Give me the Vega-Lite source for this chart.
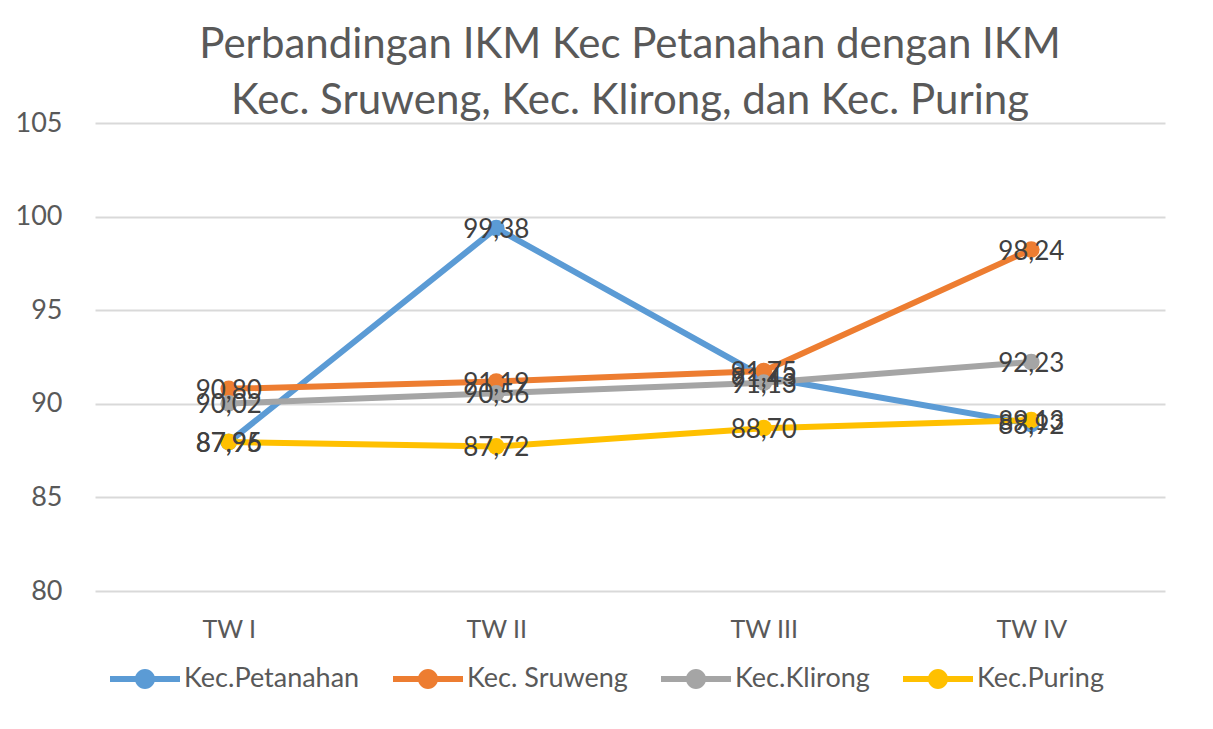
{
  "$schema": "https://vega.github.io/schema/vega-lite/v6.json",
  "width": 1070,
  "height": 468,
  "autosize": {"type": "none"},
  "padding": {"left": 95, "top": 123, "right": 48, "bottom": 138},
  "background": "white",
  "config": {
    "locale": {"number": {"decimal": ",", "thousands": ".", "grouping": [3], "currency": ["", ""]}},
    "font": "Lato",
    "view": {"stroke": null},
    "title": {"font": "Lato", "fontSize": 42, "fontWeight": "normal", "color": "#595959", "lineHeight": 56, "offset": -14, "anchor": "middle"}
  },
  "title": {"text": ["Perbandingan IKM Kec Petanahan dengan IKM", "Kec. Sruweng, Kec. Klirong, dan Kec. Puring"]},
  "data": {"values": [
    {"tw": "TW I", "kec": "Kec.Petanahan", "v": 87.95},
    {"tw": "TW II", "kec": "Kec.Petanahan", "v": 99.38},
    {"tw": "TW III", "kec": "Kec.Petanahan", "v": 91.43},
    {"tw": "TW IV", "kec": "Kec.Petanahan", "v": 88.92},
    {"tw": "TW I", "kec": "Kec. Sruweng", "v": 90.80},
    {"tw": "TW II", "kec": "Kec. Sruweng", "v": 91.19},
    {"tw": "TW III", "kec": "Kec. Sruweng", "v": 91.75},
    {"tw": "TW IV", "kec": "Kec. Sruweng", "v": 98.24},
    {"tw": "TW I", "kec": "Kec.Klirong", "v": 90.02},
    {"tw": "TW II", "kec": "Kec.Klirong", "v": 90.56},
    {"tw": "TW III", "kec": "Kec.Klirong", "v": 91.13},
    {"tw": "TW IV", "kec": "Kec.Klirong", "v": 92.23},
    {"tw": "TW I", "kec": "Kec.Puring", "v": 87.96},
    {"tw": "TW II", "kec": "Kec.Puring", "v": 87.72},
    {"tw": "TW III", "kec": "Kec.Puring", "v": 88.70},
    {"tw": "TW IV", "kec": "Kec.Puring", "v": 89.13}
  ]},
  "encoding": {
    "x": {"field": "tw", "type": "nominal", "sort": ["TW I", "TW II", "TW III", "TW IV"], "title": null,
      "scale": {"paddingInner": 0, "paddingOuter": 0, "align": 0.5},
      "axis": {"labelAngle": 0, "domain": false, "ticks": false, "grid": false, "labelFont": "Lato", "labelFontSize": 25, "labelColor": "#595959", "labelPadding": 26}},
    "y": {"field": "v", "type": "quantitative", "title": null,
      "scale": {"domain": [80, 105], "nice": false, "zero": false},
      "axis": {"values": [80, 85, 90, 95, 100, 105], "domain": false, "ticks": false, "gridColor": "#d9d9d9", "gridWidth": 2, "labelFont": "Lato", "labelFontSize": 27, "labelColor": "#595959", "labelPadding": 33}},
    "color": {"field": "kec", "type": "nominal", "sort": ["Kec.Petanahan", "Kec. Sruweng", "Kec.Klirong", "Kec.Puring"],
      "scale": {"domain": ["Kec.Petanahan", "Kec. Sruweng", "Kec.Klirong", "Kec.Puring"], "range": ["#5B9BD5", "#ED7D31", "#A5A5A5", "#FFC000"]}}
  },
  "layer": [
    {
      "mark": {"type": "line", "strokeWidth": 6, "point": {"filled": true, "size": 280, "opacity": 1}},
      "encoding": {
        "color": {"field": "kec", "type": "nominal", "sort": ["Kec.Petanahan", "Kec. Sruweng", "Kec.Klirong", "Kec.Puring"],
          "legend": {"orient": "none", "direction": "horizontal", "legendX": 15, "legendY": 521, "title": null,
            "symbolType": "M-1,-0.086L1,-0.086L1,0.086L-1,0.086Z M0.286,0A0.286,0.286,0,1,1,-0.286,0A0.286,0.286,0,1,1,0.286,0Z",
            "symbolSize": 4900, "symbolStrokeWidth": 0, "symbolOpacity": 1, "labelFont": "Lato", "labelFontSize": 27, "labelLimit": 0, "labelColor": "#595959", "labelOffset": 4, "columnPadding": 33}}
      }
    },
    {
      "mark": {"type": "text", "fontSize": 26, "font": "Lato", "color": "#404040", "align": "center", "baseline": "middle", "dy": 2},
      "encoding": {"text": {"field": "v", "type": "quantitative", "format": ".2f"}, "color": {"value": "#404040"}}
    }
  ]
}
